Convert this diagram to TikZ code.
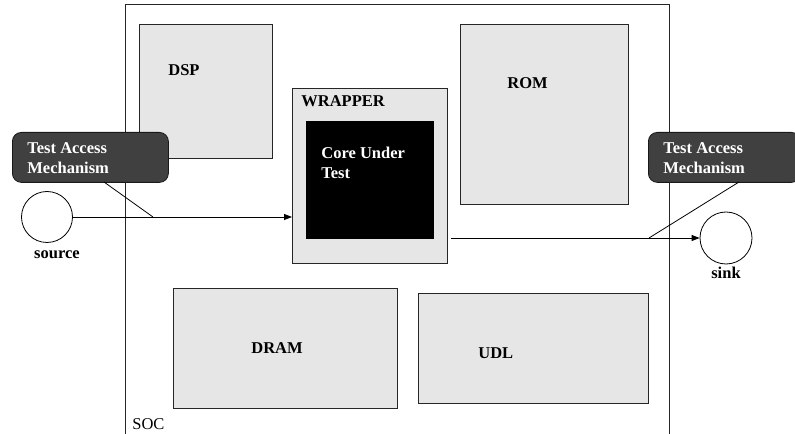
\documentclass[tikz,border=0pt]{standalone}
\usepackage{fontspec}
\setmainfont{Liberation Serif}
\usetikzlibrary{arrows.meta}
\definecolor{blkfill}{HTML}{E6E6E6}
\definecolor{tamfill}{HTML}{404040}
\begin{document}
\begin{tikzpicture}[x=1bp,y=-1bp,
  line width=0.8bp,
  blk/.style={draw=black!85, fill=blkfill, inner sep=0pt, anchor=north west},
  core/.style={draw=black, fill=black, inner sep=0pt, anchor=north west},
  tam/.style={draw=black!90, fill=tamfill, rounded corners=9bp, inner sep=0pt, anchor=north west},
  lbl/.style={font=\fontsize{16.5bp}{20bp}\selectfont\bfseries, inner sep=0pt, anchor=base west, align=left},
  wlbl/.style={lbl, text=white},
  port/.style={draw=black, fill=white, circle, inner sep=0pt, minimum size=51bp},
  arr/.style={-{Triangle[length=8bp,width=6bp]}},
  ptr/.style={draw=black}
]
\useasboundingbox (0,0) rectangle (795,434);
% SOC frame
\draw[black!85] (125,440) -- (125,4.5) -- (669,4.5) -- (669,440);
\node[font=\fontsize{16.5bp}{20bp}\selectfont, inner sep=0pt, anchor=base west] (soc) at (132,429) {SOC};

% blocks
\node[blk, minimum width=133bp, minimum height=134bp] (dsp) at (139,24) {};
\node[lbl] (dspt) at (168,76) {DSP};
\node[blk, minimum width=168bp, minimum height=180bp] (rom) at (460,24) {};
\node[lbl] (romt) at (507,89) {ROM};
\node[blk, minimum width=155bp, minimum height=175bp] (wrap) at (292,88) {};
\node[lbl] (wrapt) at (301,107) {WRAPPER};
\node[core, minimum width=127bp, minimum height=117bp] (core) at (306,121) {};
\node[wlbl] (coret) at (321,179) {Core Under\\Test};
\node[blk, minimum width=224bp, minimum height=120bp] (dram) at (173,288) {};
\node[lbl] (dramt) at (251,354) {DRAM};
\node[blk, minimum width=230bp, minimum height=110bp] (udl) at (418,293) {};
\node[lbl] (udlt) at (478,359) {UDL};

% source / sink
\node[port] (src) at (47,217) {};
\node[lbl, anchor=base] (srct) at (57,259) {source};
\node[port, minimum size=52bp] (snk) at (726,238) {};
\node[lbl, anchor=base] (snkt) at (726,279) {sink};

% connectors
\draw[arr] (src.east) -- (src.east -| wrap.west);
\coordinate (cout) at (451,238);
\draw[arr] (cout) -- (snk.west);

% TAM callouts
\node[tam, minimum width=156bp, minimum height=50bp] (taml) at (12,132) {};
\node[wlbl] (tamlt) at (27,174) {Test Access\\Mechanism};
\node[tam, minimum width=152bp, minimum height=50bp] (tamr) at (648,132) {};
\node[wlbl] (tamrt) at (663,174) {Test Access\\Mechanism};
\coordinate (plA) at (104,182);
\coordinate (plB) at (153,217);
\draw[ptr] (plA) -- (plB);
\coordinate (prA) at (739,182);
\coordinate (prB) at (649,238);
\draw[ptr] (prA) -- (prB);
\end{tikzpicture}
\end{document}
